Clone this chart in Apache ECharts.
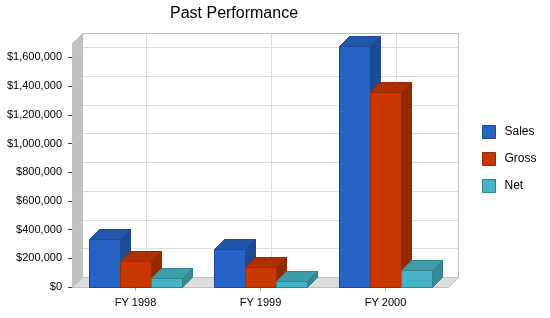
<!DOCTYPE html>
<html><head><meta charset="utf-8">
<script src="https://cdn.jsdelivr.net/npm/echarts@6/dist/echarts.min.js"></script>
<style>html,body{margin:0;padding:0;background:#fff;}#c{width:550px;height:318px;}</style>
</head><body><div id="c"></div>
<script>
const categories = ['FY 1998', 'FY 1999', 'FY 2000'];
const seriesNames = ['Sales', 'Gross', 'Net'];
const sales = [333000, 268000, 1680000];
const gross = [178000, 136000, 1358000];
const net = [60000, 39000, 115000];
const yTicks = [0, 200000, 400000, 600000, 800000, 1000000, 1200000, 1400000, 1600000];

const FONT = '"Liberation Sans", Arial, sans-serif';
const D = 10;
const palette = [
  {front:'#2563C4', top:'#2256A8', side:'#1F4B94', border:'#1C4A96'},
  {front:'#C83700', top:'#AE3000', side:'#932900', border:'#9A2A00'},
  {front:'#47B3C5', top:'#3E9DA9', side:'#368893', border:'#2F8390'}
];

function barRender(sIdx){
  const col = palette[sIdx];
  return function(params, api){
    const cat = api.value(0), val = api.value(1);
    const c = api.coord([cat, val]);
    const b = api.coord([cat, 0]);
    const band = api.size([1, 0])[0];
    const bw = band * 0.248;
    const x0 = Math.round(c[0] + (sIdx - 1.5) * bw) + 0.5;
    const x1 = Math.round(c[0] + (sIdx - 0.5) * bw) + 0.5;
    const yT = Math.round(c[1]) + 0.5, yB = Math.round(b[1]) + 0.5;
    return {type:'group', children:[
      {type:'polygon', shape:{points:[[x1,yT],[x1+D,yT-D],[x1+D,yB-D],[x1,yB]]},
        style:{fill:col.side, stroke:col.border, lineWidth:1}},
      {type:'polygon', shape:{points:[[x0,yT],[x1,yT],[x1+D,yT-D],[x0+D,yT-D]]},
        style:{fill:col.top, stroke:col.border, lineWidth:1}},
      {type:'rect', shape:{x:x0, y:yT, width:x1-x0, height:yB-yT},
        style:{fill:col.front, stroke:col.border, lineWidth:1}}
    ]};
  };
}

function wallRender(params, api){
  const cs = params.coordSys;
  const x0 = Math.round(cs.x) - 0.5, x1 = Math.round(cs.x + cs.width) + 0.5;
  const yTop = Math.round(cs.y) + 0.5, yB = Math.round(cs.y + cs.height) + 0.5;
  const kids = [];
  kids.push({type:'rect', shape:{x:x0+D, y:yTop-D, width:x1-x0, height:yB-yTop}, style:{fill:'#fff'}});
  yTicks.forEach(function(v){
    if (v === 0) return;
    const y = Math.round(api.coord([0, v])[1]) + 0.5;
    kids.push({type:'line', shape:{x1:x0+D, y1:y-D, x2:x1+D, y2:y-D}, style:{stroke:'#dddddd', lineWidth:1}});
  });
  categories.forEach(function(cn, i){
    const x = Math.round(api.coord([i, 0])[0]) + 0.5;
    kids.push({type:'line', shape:{x1:x+D, y1:yTop-D, x2:x+D, y2:yB-D}, style:{stroke:'#dddddd', lineWidth:1}});
  });
  kids.push({type:'polyline', shape:{points:[[x0+D, yTop-D],[x1+D, yTop-D],[x1+D, yB-D]]}, style:{stroke:'#c0c0c0', fill:null, lineWidth:1}});
  kids.push({type:'polygon', shape:{points:[[x0,yTop],[x0+D,yTop-D],[x0+D,yB-D],[x0,yB]]}, style:{fill:'#c0c0c0', stroke:'#c0c0c0', lineWidth:1}});
  yTicks.forEach(function(v){
    if (v === 0) return;
    const y = Math.round(api.coord([0, v])[1]) + 0.5;
    kids.push({type:'line', shape:{x1:x0, y1:y, x2:x0+D, y2:y-D}, style:{stroke:'#c9c9c9', lineWidth:1}});
  });
  kids.push({type:'polygon', shape:{points:[[x0,yB],[x0+D,yB-D],[x1+D,yB-D],[x1,yB]]}, style:{fill:'#dddddd', stroke:'#c0c0c0', lineWidth:1}});
  return {type:'group', children:kids};
}

const dataOf = function(arr){ return arr.map(function(v, i){ return [i, v]; }); };
const allValues = [sales, gross, net];

const chart = echarts.init(document.getElementById('c'), null, {renderer:'canvas'});
chart.setOption({
  animation:false,
  backgroundColor:'#fff',
  textStyle:{fontFamily:FONT},
  title:{text:'Past Performance', left:170, top:6, padding:0,
    textStyle:{fontSize:16, fontWeight:'normal', color:'#000', fontFamily:FONT}},
  legend:{orient:'vertical', left:482, top:125, padding:0, itemWidth:13, itemHeight:13, itemGap:13, icon:'rect',
    textStyle:{fontSize:12, color:'#000', fontFamily:FONT, padding:[0,0,0,4]},
    data:seriesNames.map(function(n, i){
      return {name:n, itemStyle:{color:palette[i].front, borderColor:palette[i].border, borderWidth:1}};
    })},
  grid:{left:73, right:102, top:43, bottom:31},
  xAxis:{type:'category', data:categories,
    axisLine:{show:false},
    axisTick:{show:true, alignWithLabel:true, length:4, lineStyle:{color:'#aaaaaa'}},
    axisLabel:{margin:10, fontSize:11, color:'#000', fontFamily:FONT},
    splitLine:{show:false}},
  yAxis:{type:'value', min:0, max:1700000,
    axisLine:{show:false},
    axisTick:{show:true, length:5, customValues:yTicks, lineStyle:{color:'#444'}},
    axisLabel:{customValues:yTicks, margin:11, fontSize:11, color:'#000', fontFamily:FONT,
      formatter:function(v){ return '$' + Number(v).toLocaleString('en-US'); }},
    splitLine:{show:false}},
  series:[
    {type:'custom', name:'walls', silent:true, renderItem:wallRender, data:[[0,0]], z:1}
  ].concat(seriesNames.map(function(n, i){
    return {type:'custom', name:n, renderItem:barRender(i), data:dataOf(allValues[i]),
      itemStyle:{color:palette[i].front, borderColor:palette[i].border}, z:2+i,
      encode:{x:0, y:1}};
  }))
});
</script></body></html>
